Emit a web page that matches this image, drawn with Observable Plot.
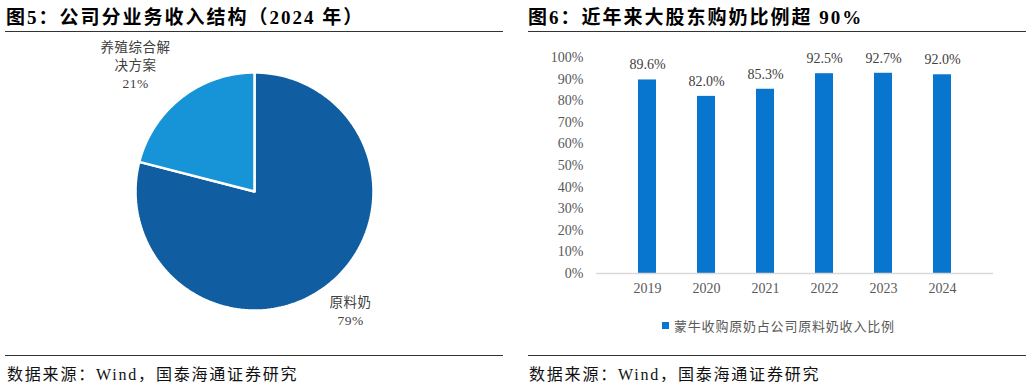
<!DOCTYPE html>
<html>
<head>
<meta charset="utf-8">
<script src="https://cdn.jsdelivr.net/npm/d3@7"></script>
<script src="https://cdn.jsdelivr.net/npm/@observablehq/plot@0.6"></script>
<style>
  html, body { margin: 0; padding: 0; background: #fff; }
  body { width: 1032px; height: 382px; position: relative; overflow: hidden;
         font-family: "Liberation Serif", "Noto Sans CJK SC", serif; color: #000; }
  .title { position: absolute; top: 2px; font-size: 19px; font-weight: bold; letter-spacing: 2px; white-space: nowrap; }
  .rule { position: absolute; height: 1px; background: #333; }
  .foot { position: absolute; top: 361px; font-size: 16px; letter-spacing: 1.8px; white-space: nowrap; color: #111; }
  .chart { position: absolute; }
  .legend { position: absolute; top: 316px; left: 662px; font-size: 13px; color: #595959;
            letter-spacing: 0.8px; white-space: nowrap; display: flex; align-items: center; }
  .legend .sw { width: 7px; height: 7px; background: #0875cf; margin-right: 5px; }
  #pie text { letter-spacing: 0.5px; }
</style>
</head>
<body>
<div class="title" style="left:6px">图5：公司分业务收入结构（2024 年）</div>
<div class="rule" style="left:5px; width:498px; top:31px"></div>
<div class="title" style="left:528px">图6：近年来大股东购奶比例超 90%</div>
<div class="rule" style="left:528px; width:498px; top:31px"></div>

<div id="pie" class="chart" style="left:0px; top:40px"></div>
<div id="bars" class="chart" style="left:516px; top:40px"></div>
<div class="legend"><span class="sw"></span>蒙牛收购原奶占公司原料奶收入比例</div>

<div class="rule" style="left:5px; width:498px; top:355px"></div>
<div class="foot" style="left:7px">数据来源：Wind，国泰海通证券研究</div>
<div class="rule" style="left:528px; width:498px; top:355px"></div>
<div class="foot" style="left:529px">数据来源：Wind，国泰海通证券研究</div>

<script>
// ---- Data ----
const pieCategories = ["原料奶", "养殖综合解决方案"];
const pieLabels = ["原料奶\n79%", "养殖综合解\n决方案\n21%"];
const pieShares = [79, 21];
const pieColors = ["#105ea1", "#1794d8"];

const years = ["2019", "2020", "2021", "2022", "2023", "2024"];
const ratios = [89.6, 82.0, 85.3, 92.5, 92.7, 92.0];
const ratioLabels = ["89.6%", "82.0%", "85.3%", "92.5%", "92.7%", "92.0%"];
const yTickValues = [0, 10, 20, 30, 40, 50, 60, 70, 80, 90, 100];

const font = "Liberation Serif, 'Noto Sans CJK SC', serif";

// ---- Pie (polygons in a unit-circle coordinate system) ----
{
  const W = 516, H = 300, cx = 254, cy = 151, r = 119;
  const arcs = d3.pie().sort(null).value(d => d)(pieShares);
  const slices = arcs.map((a, i) => {
    const n = 160;
    const pts = [{x: 0, y: 0}];
    for (let k = 0; k <= n; k++) {
      const t = a.startAngle + (a.endAngle - a.startAngle) * k / n;
      pts.push({x: Math.sin(t), y: Math.cos(t)});
    }
    return {pts, color: pieColors[i]};
  });
  // label anchor points (outside the pie), in unit-circle coords
  const labelPos = [{x: 0.807, y: -1.0}, {x: -1.0, y: 1.07}];
  const labelData = pieLabels.map((t, i) => ({text: t, ...labelPos[i]}));

  const pie = Plot.plot({
    width: W, height: H,
    margin: 0,
    x: {domain: [-cx / r, (W - cx) / r], range: [0, W], axis: null},
    y: {domain: [-(H - cy) / r, cy / r], range: [H, 0], axis: null},
    style: {fontFamily: font, background: "transparent"},
    marks: [
      ...slices.map(s => Plot.line(s.pts, {x: "x", y: "y", fill: s.color, stroke: "#fff", strokeWidth: 2.5, curve: "linear-closed"})),
      Plot.text(labelData, {x: "x", y: "y", text: "text", fill: "#404040", fontSize: 13.5, lineHeight: 1.32})
    ]
  });
  document.getElementById("pie").append(pie);
}

// ---- Bars ----
{
  const data = years.map((y, i) => ({year: y, v: ratios[i], label: ratioLabels[i]}));
  const bars = Plot.plot({
    width: 516, height: 265,
    marginTop: 17, marginBottom: 32, marginLeft: 80, marginRight: 39,
    style: {fontFamily: font, fontSize: "14px", color: "#595959", background: "transparent"},
    x: {domain: years, padding: 0.69, label: null, tickSize: 0, tickPadding: 10},
    y: {domain: [0, 100], ticks: yTickValues, label: null, tickSize: 0, tickPadding: 13, tickFormat: d => d + "%"},
    marks: [
      Plot.barY(data, {x: "year", y: "v", fill: "#0875cf"}),
      Plot.ruleY([0], {stroke: "#d9d9d9", strokeWidth: 1.5}),
      Plot.text(data, {x: "year", y: "v", text: "label", dy: -15, fill: "#404040", fontSize: 14})
    ]
  });
  document.getElementById("bars").append(bars);
}
</script>
</body>
</html>
